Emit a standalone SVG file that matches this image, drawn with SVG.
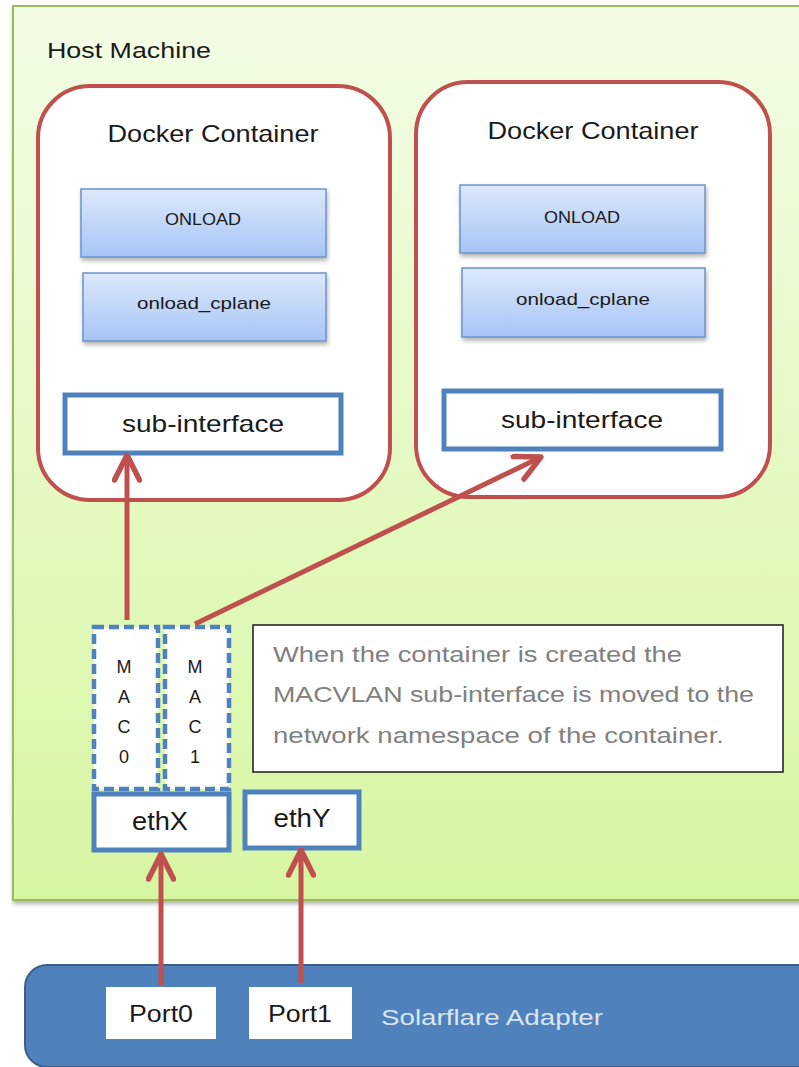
<svg xmlns="http://www.w3.org/2000/svg" width="799" height="1067" viewBox="0 0 799 1067">
<defs>
<linearGradient id="gHost" x1="0" y1="0" x2="0" y2="1">
<stop offset="0" stop-color="#f3fde6"/>
<stop offset="1" stop-color="#d7f6a2"/>
</linearGradient>
<linearGradient id="gBlue" x1="0" y1="0" x2="0" y2="1">
<stop offset="0" stop-color="#dde8fb"/>
<stop offset="1" stop-color="#a6c5f6"/>
</linearGradient>
<filter id="sh" x="-10%" y="-10%" width="130%" height="140%">
<feDropShadow dx="1" dy="3" stdDeviation="2" flood-color="#000" flood-opacity="0.3"/>
</filter>
<marker id="arr" viewBox="0 0 12 12" refX="11" refY="6" markerWidth="6" markerHeight="6" markerUnits="strokeWidth" orient="auto">
<path d="M1,1 L11,6 L1,11" fill="none" stroke="#c0504d" stroke-width="2.2" stroke-linecap="round" stroke-linejoin="round"/>
</marker>
<style>
text{font-family:"Liberation Sans",Arial,sans-serif;fill:#1a1a1a}
.cont{fill:#ffffff;stroke:#c0504d;stroke-width:4}
.blue{fill:url(#gBlue);stroke:#6b93cb;stroke-width:1.5}
.sub{fill:#ffffff;stroke:#4f81bd;stroke-width:5}
.mac{fill:#ffffff;stroke:#4f81bd;stroke-width:4.5;stroke-dasharray:10 5}
.conn{fill:none;stroke:#c0504d;stroke-width:5;marker-end:url(#arr)}
.c{text-anchor:middle}
</style>
</defs>

<g id="host">
<rect x="13" y="6" width="800" height="894" fill="url(#gHost)" stroke="#9bbb59" stroke-width="2" filter="url(#sh)"/>
<text x="47" y="58" font-size="22" textLength="164" lengthAdjust="spacingAndGlyphs">Host Machine</text>
</g>

<g id="container1">
<rect class="cont" x="38" y="86" width="352" height="414" rx="52"/>
<text class="c" x="213" y="142" font-size="24" textLength="211" lengthAdjust="spacingAndGlyphs">Docker Container</text>
</g>
<g id="onload1">
<rect class="blue" x="81" y="189" width="245" height="68" filter="url(#sh)"/>
<text class="c" x="203" y="225" font-size="17" textLength="76" lengthAdjust="spacingAndGlyphs">ONLOAD</text>
</g>
<g id="cplane1">
<rect class="blue" x="83" y="273" width="243" height="68" filter="url(#sh)"/>
<text class="c" x="204" y="309" font-size="17" textLength="134" lengthAdjust="spacingAndGlyphs">onload_cplane</text>
</g>
<g id="subif1">
<rect class="sub" x="65" y="395" width="276" height="58"/>
<text class="c" x="203" y="432" font-size="24" textLength="162" lengthAdjust="spacingAndGlyphs">sub-interface</text>
</g>

<g id="container2">
<rect class="cont" x="416" y="82" width="354" height="415" rx="52"/>
<text class="c" x="593" y="139" font-size="24" textLength="211" lengthAdjust="spacingAndGlyphs">Docker Container</text>
</g>
<g id="onload2">
<rect class="blue" x="460" y="185" width="245" height="68" filter="url(#sh)"/>
<text class="c" x="582" y="223" font-size="17" textLength="76" lengthAdjust="spacingAndGlyphs">ONLOAD</text>
</g>
<g id="cplane2">
<rect class="blue" x="462" y="268" width="243" height="69" filter="url(#sh)"/>
<text class="c" x="583" y="305" font-size="17" textLength="134" lengthAdjust="spacingAndGlyphs">onload_cplane</text>
</g>
<g id="subif2">
<rect class="sub" x="444" y="391" width="277" height="58"/>
<text class="c" x="582" y="428" font-size="24" textLength="162" lengthAdjust="spacingAndGlyphs">sub-interface</text>
</g>

<g id="mac0">
<rect class="mac" x="94" y="627" width="64" height="162"/>
<text class="c" x="124" y="673" font-size="18">M</text>
<text class="c" x="124" y="703" font-size="18">A</text>
<text class="c" x="124" y="733" font-size="18">C</text>
<text class="c" x="124" y="763" font-size="18">0</text>
</g>
<g id="mac1">
<rect class="mac" x="165" y="627" width="64" height="162"/>
<text class="c" x="195" y="673" font-size="18">M</text>
<text class="c" x="195" y="703" font-size="18">A</text>
<text class="c" x="195" y="733" font-size="18">C</text>
<text class="c" x="195" y="763" font-size="18">1</text>
</g>
<g id="ethX">
<rect class="sub" x="94" y="794" width="135" height="56"/>
<text class="c" x="160" y="830" font-size="25" textLength="56" lengthAdjust="spacingAndGlyphs">ethX</text>
</g>
<g id="ethY">
<rect class="sub" x="245" y="792" width="114" height="56"/>
<text class="c" x="302" y="827" font-size="25" textLength="57" lengthAdjust="spacingAndGlyphs">ethY</text>
</g>

<g id="note">
<rect x="253" y="625" width="530" height="147" fill="#ffffff" stroke="#1a1a1a" stroke-width="1.5"/>
<text x="273" y="662" font-size="22" style="fill:#808080" textLength="409" lengthAdjust="spacingAndGlyphs">When the container is created the</text>
<text x="273" y="702" font-size="22" style="fill:#808080" textLength="481" lengthAdjust="spacingAndGlyphs">MACVLAN sub-interface is moved to the</text>
<text x="273" y="743" font-size="22" style="fill:#808080" textLength="451" lengthAdjust="spacingAndGlyphs">network namespace of the container.</text>
</g>

<g id="adapter">
<rect x="25" y="965" width="800" height="102" rx="22" fill="#4f81bd" stroke="#3a5f8b" stroke-width="2"/>
<text x="381" y="1025" font-size="22" style="fill:#dce6f2" textLength="222" lengthAdjust="spacingAndGlyphs">Solarflare Adapter</text>
</g>
<g id="port0">
<rect x="106" y="987" width="110" height="52" fill="#ffffff"/>
<text class="c" x="161" y="1022" font-size="23" textLength="64" lengthAdjust="spacingAndGlyphs">Port0</text>
</g>
<g id="port1">
<rect x="249" y="987" width="103" height="52" fill="#ffffff"/>
<text class="c" x="300" y="1022" font-size="23" textLength="64" lengthAdjust="spacingAndGlyphs">Port1</text>
</g>

<g id="connectors">
<line class="conn" x1="127" y1="620" x2="127" y2="455"/>
<line class="conn" x1="195" y1="624" x2="541" y2="457"/>
<line class="conn" x1="161" y1="985" x2="161" y2="854"/>
<line class="conn" x1="301" y1="983" x2="301" y2="850"/>
</g>
</svg>
